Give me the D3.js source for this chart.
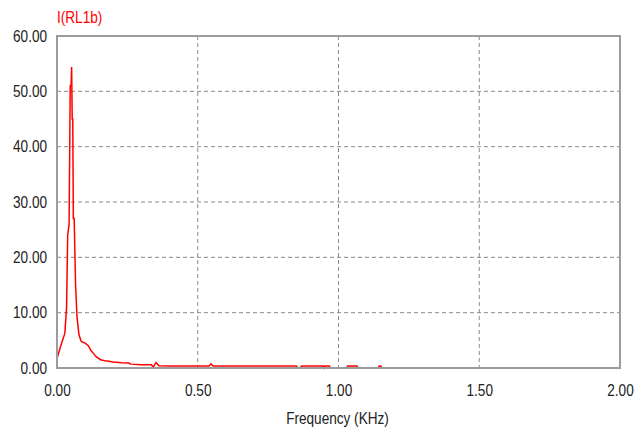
<!DOCTYPE html>
<html>
<head>
<meta charset="utf-8">
<script src="https://cdn.jsdelivr.net/npm/d3@7"></script>
<style>
  body { margin: 0; background: #fff; }
  text { font-family: "Liberation Sans", Arial, sans-serif; }
</style>
</head>
<body>
<div id="chart"></div>
<script>
// frequency (KHz) and current I(RL1b)
const freq = [0, 0.012, 0.028, 0.034, 0.038, 0.043, 0.047, 0.050, 0.052, 0.054, 0.056, 0.058, 0.061,
  0.066, 0.071, 0.078, 0.086, 0.100, 0.112, 0.120, 0.130, 0.140, 0.155, 0.170, 0.185, 0.200,
  0.230, 0.255, 0.262, 0.300, 0.335, 0.342, 0.352, 0.362, 0.400, 0.540, 0.547, 0.555, 0.850,
  0.855, 0.864, 0.869, 0.946, 0.949, 0.952, 0.967, 0.972, 1.028, 1.033, 1.065, 1.070, 1.140,
  1.145, 1.150, 1.155, 2.0];
const current = [1.7, 3.8, 6.3, 11, 24, 26, 51, 51, 54.4, 45, 45, 27, 27,
  15, 9.3, 6, 4.8, 4.5, 4.0, 3.2, 2.6, 2.0, 1.5, 1.3, 1.2, 1.1,
  0.95, 0.9, 0.7, 0.6, 0.6, 0.15, 1.0, 0.4, 0.35, 0.35, 0.75, 0.35, 0.35,
  0, 0, 0.35, 0.35, 0, 0.35, 0.35, 0, 0, 0.35, 0.35, 0, 0,
  0.35, 0.35, 0, 0];
const xTicks = [0, 0.5, 1.0, 1.5, 2.0];
const yTicks = [0, 10, 20, 30, 40, 50, 60];

const W = 644, H = 432;
const margin = {top: 36, right: 24, bottom: 64, left: 57};
const width = W - margin.left - margin.right;
const height = H - margin.top - margin.bottom;
const squeeze = 0.85; // the original font is a narrow one

const svg = d3.select("#chart").append("svg")
  .attr("width", W).attr("height", H);

const g = svg.append("g")
  .attr("transform", `translate(${margin.left},${margin.top})`);

const x = d3.scaleLinear().domain([0, 2]).range([0, width]);
const y = d3.scaleLinear().domain([0, 60]).range([height, 0]);

// narrow text: scale horizontally, keep the anchor point
function narrow(sel) {
  sel.each(function() {
    const t = d3.select(this);
    const tx = +t.attr("x") || 0;
    t.attr("x", tx / squeeze).attr("transform", `scale(${squeeze},1)`);
  });
}

// dashed grid
g.append("g")
  .selectAll("line.vg")
  .data(xTicks.slice(1, -1))
  .enter().append("line")
    .attr("x1", d => x(d)).attr("x2", d => x(d))
    .attr("y1", 0).attr("y2", height)
    .attr("stroke", "#8a8a8a").attr("stroke-dasharray", "4,3");

g.append("g")
  .selectAll("line.hg")
  .data(yTicks.slice(1, -1))
  .enter().append("line")
    .attr("x1", 0).attr("x2", width)
    .attr("y1", d => y(d)).attr("y2", d => y(d))
    .attr("stroke", "#8a8a8a").attr("stroke-dasharray", "4,3");

// the trace
const data = freq.map((f, i) => ({f: f, v: current[i]}));
g.append("path")
  .datum(data)
  .attr("fill", "none")
  .attr("stroke", "#ff0000")
  .attr("stroke-width", 1.5)
  .attr("d", d3.line().x(d => x(d.f)).y(d => y(d.v)));

// frame
g.append("rect")
  .attr("x", 0).attr("y", 0)
  .attr("width", width).attr("height", height)
  .attr("fill", "none")
  .attr("stroke", "#9c9c9c")
  .attr("stroke-width", 2);

// axes
const yAxis = g.append("g")
  .call(d3.axisLeft(y).tickValues(yTicks).tickFormat(d3.format(".2f")).tickSize(0).tickPadding(10));
yAxis.select(".domain").remove();
yAxis.selectAll("text")
  .attr("font-size", 16).attr("fill", "#222")
  .attr("font-family", null)
  .call(narrow);

const xAxis = g.append("g")
  .attr("transform", `translate(0,${height})`)
  .call(d3.axisBottom(x).tickValues(xTicks).tickFormat(d3.format(".2f")).tickSize(0));
xAxis.select(".domain").remove();
xAxis.selectAll("text")
  .attr("y", 28).attr("dy", 0)
  .attr("font-size", 16).attr("fill", "#222")
  .attr("font-family", null)
  .call(narrow);

svg.append("text")
  .attr("x", margin.left + x(1) - 1)
  .attr("y", 424)
  .attr("text-anchor", "middle")
  .attr("font-size", 16)
  .attr("fill", "#222")
  .text("Frequency (KHz)")
  .call(narrow);

svg.append("text")
  .attr("x", margin.left)
  .attr("y", 23)
  .attr("font-size", 16)
  .attr("fill", "#ff0000")
  .text("I(RL1b)")
  .call(narrow);
</script>
</body>
</html>
